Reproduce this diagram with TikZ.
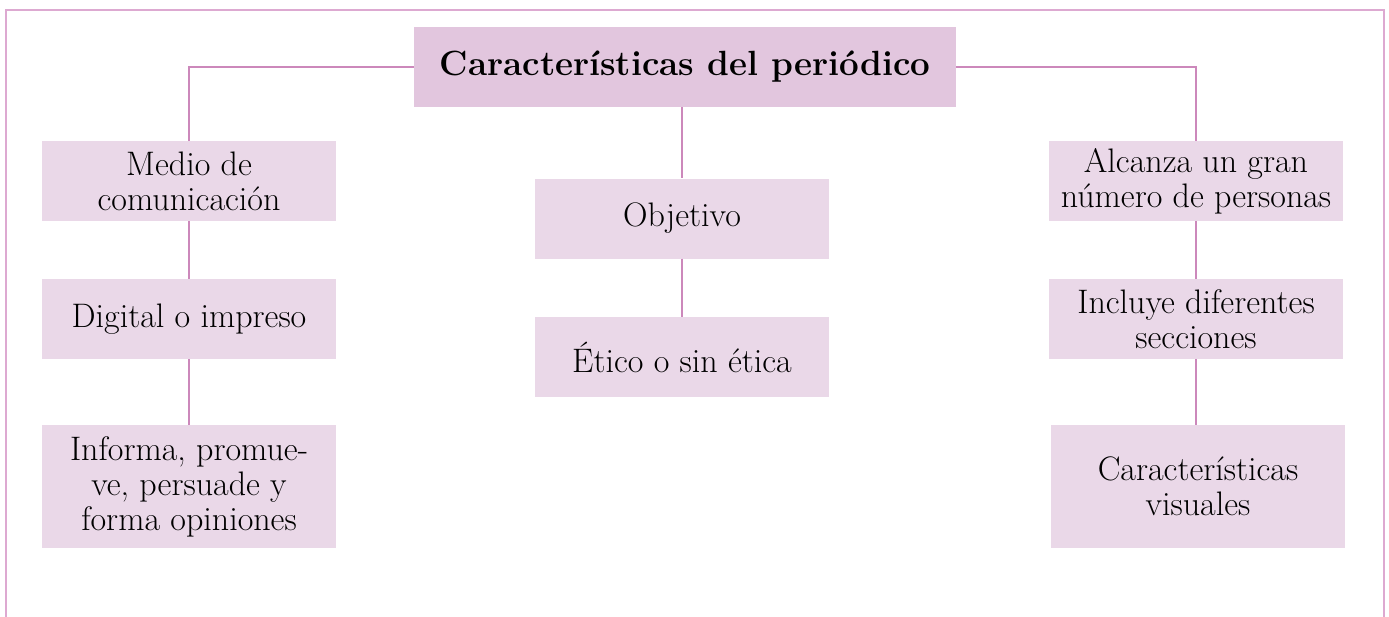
\documentclass[tikz,border=0pt]{standalone}
\usepackage{fontspec}
\definecolor{titlefill}{HTML}{E2C6DE}
\definecolor{boxfill}{HTML}{EAD8E8}
\definecolor{linecol}{HTML}{CC88BB}
\definecolor{framecol}{HTML}{DDA9D1}
\tikzset{
  box/.style={fill=boxfill, draw=none, inner sep=0pt, minimum width=294pt, minimum height=80pt,
    align=center, font=\fontsize{34}{35}\selectfont},
  titlebox/.style={fill=titlefill, draw=none, inner sep=0pt, minimum width=542pt, minimum height=80pt,
    align=center, font=\fontsize{35}{38}\selectfont\bfseries},
  conn/.style={draw=linecol, line width=2.7pt},
  frame/.style={draw=framecol, line width=2pt}
}
\begin{document}
\begin{tikzpicture}[x=1pt,y=-1pt]
\useasboundingbox (0,0) rectangle (1389,616);
\fill[white] (0,0) rectangle (1389,616);
\draw[frame] (6,640) -- (6,10) -- (1384,10) -- (1384,640);

\node[titlebox] (title) at (685,67) {Características del periódico};

\node[box] (medio) at (189,181) {Medio de\\comunicación};
\node[box] (digital) at (189,319) {Digital o impreso};
\node[box, minimum height=123pt] (info) at (189,486.5) {Informa, promue-\\ve, persuade y\\forma opiniones};

\node[box] (objetivo) at (682,218.5) {Objetivo};
\node[box] (etico) at (682,357) {Ético o sin ética};

\node[box] (alcanza) at (1196,181) {Alcanza un gran\\número de personas};
\node[box] (incluye) at (1196,319) {Incluye diferentes\\secciones};
\node[box, minimum height=123pt] (visual) at (1198,486.5) {Características\\visuales};

\draw[conn] (title.west) -| (medio.north);
\draw[conn] (title.east) -| (alcanza.north);
\draw[conn] (objetivo.north |- title.south) -- (objetivo.north);
\draw[conn] (medio.south) -- (digital.north);
\draw[conn] (digital.south) -- (info.north);
\draw[conn] (objetivo.south) -- (etico.north);
\draw[conn] (alcanza.south) -- (incluye.north);
\draw[conn] (incluye.south) -- (incluye.south |- visual.north);
\end{tikzpicture}
\end{document}
